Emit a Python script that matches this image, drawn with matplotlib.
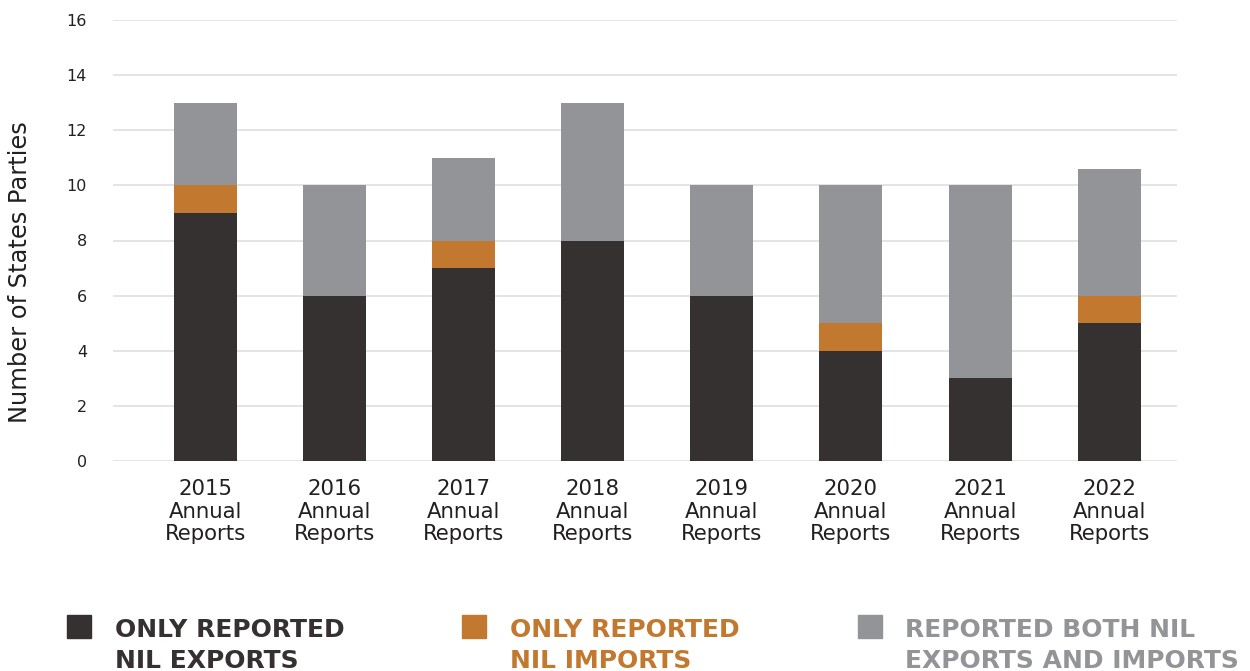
import matplotlib
matplotlib.use("Agg")
import matplotlib.pyplot as plt
from matplotlib.patches import Rectangle
import numpy as np

categories = ["2015\nAnnual\nReports", "2016\nAnnual\nReports", "2017\nAnnual\nReports",
              "2018\nAnnual\nReports", "2019\nAnnual\nReports", "2020\nAnnual\nReports",
              "2021\nAnnual\nReports", "2022\nAnnual\nReports"]
only_exports = [9, 6, 7, 8, 6, 4, 3, 5]
only_imports = [1, 0, 1, 0, 0, 1, 0, 1]
both = [3, 4, 3, 5, 4, 5, 7, 4.6]
series_labels = ["ONLY REPORTED\nNIL EXPORTS", "ONLY REPORTED\nNIL IMPORTS",
                 "REPORTED BOTH NIL\nEXPORTS AND IMPORTS"]
yticks = [0, 2, 4, 6, 8, 10, 12, 14, 16]

colors = ["#353130", "#c2782f", "#939497"]
FONT = "DejaVu Sans"
TXT = "#231f20"

W, H = 1250, 671
fig = plt.figure(figsize=(W / 100, H / 100), dpi=100)
ax = fig.add_axes([113 / W, 1 - 461 / H, (1177 - 113) / W, (461 - 20) / H])

x = np.arange(len(categories))
bw = 0.488
e = np.array(only_exports, float)
i = np.array(only_imports, float)
b = np.array(both, float)
ax.bar(x, e, bw, color=colors[0], zorder=3)
ax.bar(x, i, bw, bottom=e, color=colors[1], zorder=3)
ax.bar(x, b, bw, bottom=e + i, color=colors[2], zorder=3)

ax.set_xlim(-0.716, 7.525)
ax.set_ylim(0, 16)
ax.set_yticks(yticks)
ax.set_yticklabels([str(t) for t in yticks], fontsize=11.5, family=FONT, color=TXT)
ax.set_xticks(x)
ax.set_xticklabels(categories, fontsize=15.3, family=FONT, color=TXT, linespacing=1.17)
ax.tick_params(axis="both", length=0)
ax.tick_params(axis="x", pad=13)
ax.tick_params(axis="y", pad=18.7)
ax.yaxis.grid(True, color="#dddddd", linewidth=1.1, zorder=0)
ax.set_axisbelow(True)
for s in ax.spines.values():
    s.set_visible(False)
ax.set_ylabel("Number of States Parties", fontsize=17.4, family=FONT, color=TXT)
ax.yaxis.set_label_coords(-0.076, 0.4286)

# legend
sq_x = [67, 462, 858]
tx_x = [115, 510, 905]
for k in range(3):
    fig.patches.append(Rectangle((sq_x[k] / W, 1 - 638 / H), 24 / W, 23 / H,
                                 transform=fig.transFigure, color=colors[k]))
    lines = series_labels[k].split("\n")
    for j, line in enumerate(lines):
        fig.text(tx_x[k] / W, 1 - (637 + 31 * j) / H, line, fontsize=18.0, family=FONT,
                 fontweight="bold", color=colors[k], va="baseline", ha="left")

fig.savefig("out.png", dpi=100)
